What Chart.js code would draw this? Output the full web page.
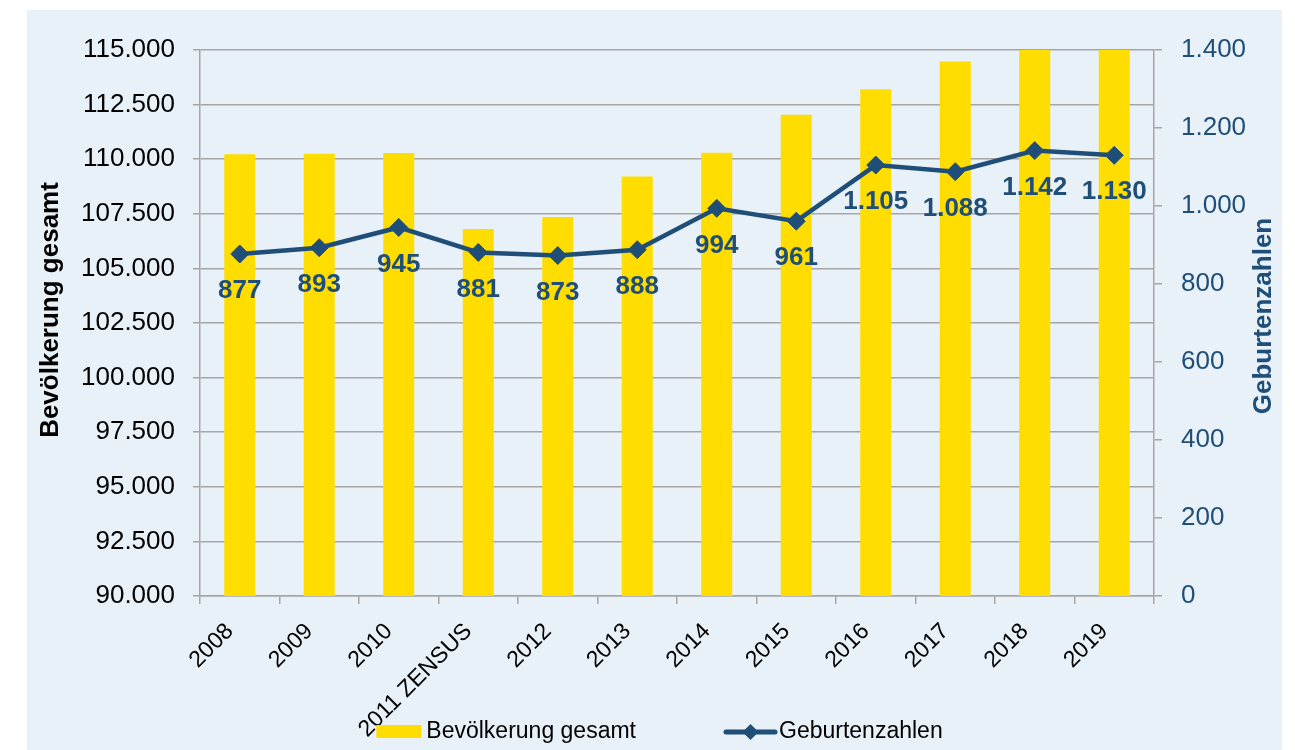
<!DOCTYPE html>
<html lang="de">
<head>
<meta charset="utf-8">
<title>Bevölkerung und Geburtenzahlen</title>
<script src="https://cdn.jsdelivr.net/npm/chart.js@4.4.1/dist/chart.umd.min.js"></script>
<style>
  html, body { margin: 0; padding: 0; background: #ffffff; }
  #panel { position: absolute; left: 27px; top: 10px; width: 1255px; height: 740px; background: #e8f0f8; }
</style>
</head>
<body>
<div id="panel"><canvas id="chart"></canvas></div>
<script>
// Kategorien (Jahre)
const jahre = ['2008', '2009', '2010', '2011 ZENSUS', '2012', '2013', '2014', '2015', '2016', '2017', '2018', '2019'];
// Bevölkerung gesamt (linke Achse); 2018/2019 laufen oben aus dem Bild
const bevoelkerung = [110230, 110250, 110280, 106800, 107350, 109210, 110300, 112040, 113200, 114470, 115800, 116200];
// Geburtenzahlen (rechte Achse)
const geburten = [877, 893, 945, 881, 873, 888, 994, 961, 1105, 1088, 1142, 1130];

const BLAU = '#1f4e79';
const GELB = '#ffdd00';
const GRAU = '#a6a6a6';
const SCHRIFT = '"Liberation Sans", Arial, sans-serif';

// Tausenderpunkt wie im Original
function formatDe(v) {
  return String(Math.round(v)).replace(/\B(?=(\d{3})+(?!\d))/g, '.');
}

function rautenZeichnen(ctx, x, y, r) {
  ctx.beginPath();
  ctx.moveTo(x - r, y);
  ctx.lineTo(x, y - r);
  ctx.lineTo(x + r, y);
  ctx.lineTo(x, y + r);
  ctx.closePath();
  ctx.fill();
}

// Werte unter den Punkten der Linie
const beschriftung = {
  id: 'beschriftung',
  afterDatasetsDraw(chart) {
    const ctx = chart.ctx;
    const meta = chart.getDatasetMeta(1);
    ctx.save();
    ctx.font = 'bold 26px ' + SCHRIFT;
    ctx.fillStyle = BLAU;
    ctx.textAlign = 'center';
    ctx.textBaseline = 'middle';
    meta.data.forEach((pt, i) => {
      ctx.fillText(formatDe(geburten[i]), pt.x, pt.y + 37);
    });
    ctx.restore();
  }
};

// Achsentitel, beide von unten nach oben gelesen
const achsentitel = {
  id: 'achsentitel',
  afterDraw(chart) {
    const { ctx, chartArea, scales } = chart;
    const mitte = (chartArea.top + chartArea.bottom) / 2;
    const titel = [
      ['Bevölkerung gesamt', scales.y.left + 24, mitte - 13, '#000000'],
      ['Geburtenzahlen', scales.y1.left + 110, mitte - 7, BLAU]
    ];
    ctx.save();
    ctx.font = 'bold 26px ' + SCHRIFT;
    ctx.textAlign = 'center';
    ctx.textBaseline = 'middle';
    titel.forEach(([text, x, y, farbe]) => {
      ctx.save();
      ctx.translate(x, y);
      ctx.rotate(-Math.PI / 2);
      ctx.fillStyle = farbe;
      ctx.fillText(text, 0, 0);
      ctx.restore();
    });
    ctx.restore();
  }
};

// Legende mit Linie + Raute (kann Chart.js so nicht selbst)
const legende = {
  id: 'legende',
  afterDraw(chart) {
    const ctx = chart.ctx;
    const t1 = chart.data.datasets[0].label;
    const t2 = chart.data.datasets[1].label;
    ctx.save();
    ctx.font = '23px ' + SCHRIFT;
    ctx.textBaseline = 'middle';
    const w1 = ctx.measureText(t1).width;
    const w2 = ctx.measureText(t2).width;
    const gesamt = 45 + 5 + w1 + 90 + 49 + 4 + w2;
    const y = chart.height - 18;
    let x = (chart.width - gesamt) / 2 + 5;
    ctx.fillStyle = GELB;
    ctx.fillRect(x, y - 7, 45, 13);
    x += 50;
    ctx.fillStyle = '#000000';
    ctx.fillText(t1, x, y);
    x += w1 + 90;
    ctx.strokeStyle = BLAU;
    ctx.lineWidth = 5;
    ctx.lineCap = 'round';
    ctx.beginPath();
    ctx.moveTo(x, y);
    ctx.lineTo(x + 49, y);
    ctx.stroke();
    ctx.fillStyle = BLAU;
    rautenZeichnen(ctx, x + 24.5, y, 8);
    x += 53;
    ctx.fillStyle = '#000000';
    ctx.fillText(t2, x, y);
    ctx.restore();
  }
};

new Chart(document.getElementById('chart'), {
  data: {
    labels: jahre,
    datasets: [
      {
        type: 'bar',
        label: 'Bevölkerung gesamt',
        data: bevoelkerung,
        backgroundColor: GELB,
        yAxisID: 'y',
        barPercentage: 0.39,
        categoryPercentage: 1,
        order: 1
      },
      {
        type: 'line',
        label: 'Geburtenzahlen',
        data: geburten,
        yAxisID: 'y1',
        borderColor: BLAU,
        backgroundColor: BLAU,
        borderWidth: 4.5,
        pointStyle: 'rectRot',
        pointRadius: 9,
        pointBorderWidth: 1,
        tension: 0,
        order: 0
      }
    ]
  },
  options: {
    responsive: true,
    maintainAspectRatio: false,
    animation: false,
    layout: { padding: { top: 40, left: 0, right: 0, bottom: 0 } },
    plugins: {
      legend: { display: false },
      tooltip: { enabled: false }
    },
    scales: {
      x: {
        grid: { offset: true, drawOnChartArea: false, color: GRAU, lineWidth: 1.5, tickLength: 8 },
        border: { color: GRAU, width: 1.5 },
        ticks: {
          color: '#000000',
          font: { family: SCHRIFT, size: 23 },
          minRotation: 45,
          maxRotation: 45,
          autoSkip: false,
          padding: 14,
          labelOffset: -10
        },
        afterFit(scale) { scale.height = 154; }
      },
      y: {
        position: 'left',
        min: 90000,
        max: 115000,
        ticks: {
          stepSize: 2500,
          color: '#000000',
          font: { family: SCHRIFT, size: 26 },
          padding: 18,
          callback: (v) => formatDe(v)
        },
        grid: { color: GRAU, lineWidth: 1.5, tickLength: 7 },
        border: { color: GRAU, width: 1.5 },
        afterFit(scale) { scale.width = 173; }
      },
      y1: {
        position: 'right',
        min: 0,
        max: 1400,
        ticks: {
          stepSize: 200,
          color: BLAU,
          font: { family: SCHRIFT, size: 26 },
          padding: 19,
          callback: (v) => formatDe(v)
        },
        grid: { drawOnChartArea: false, color: GRAU, lineWidth: 1.5, tickLength: 8 },
        border: { color: GRAU, width: 1.5 },
        afterFit(scale) { scale.width = 128; }
      }
    }
  },
  plugins: [beschriftung, achsentitel, legende]
});
</script>
</body>
</html>
